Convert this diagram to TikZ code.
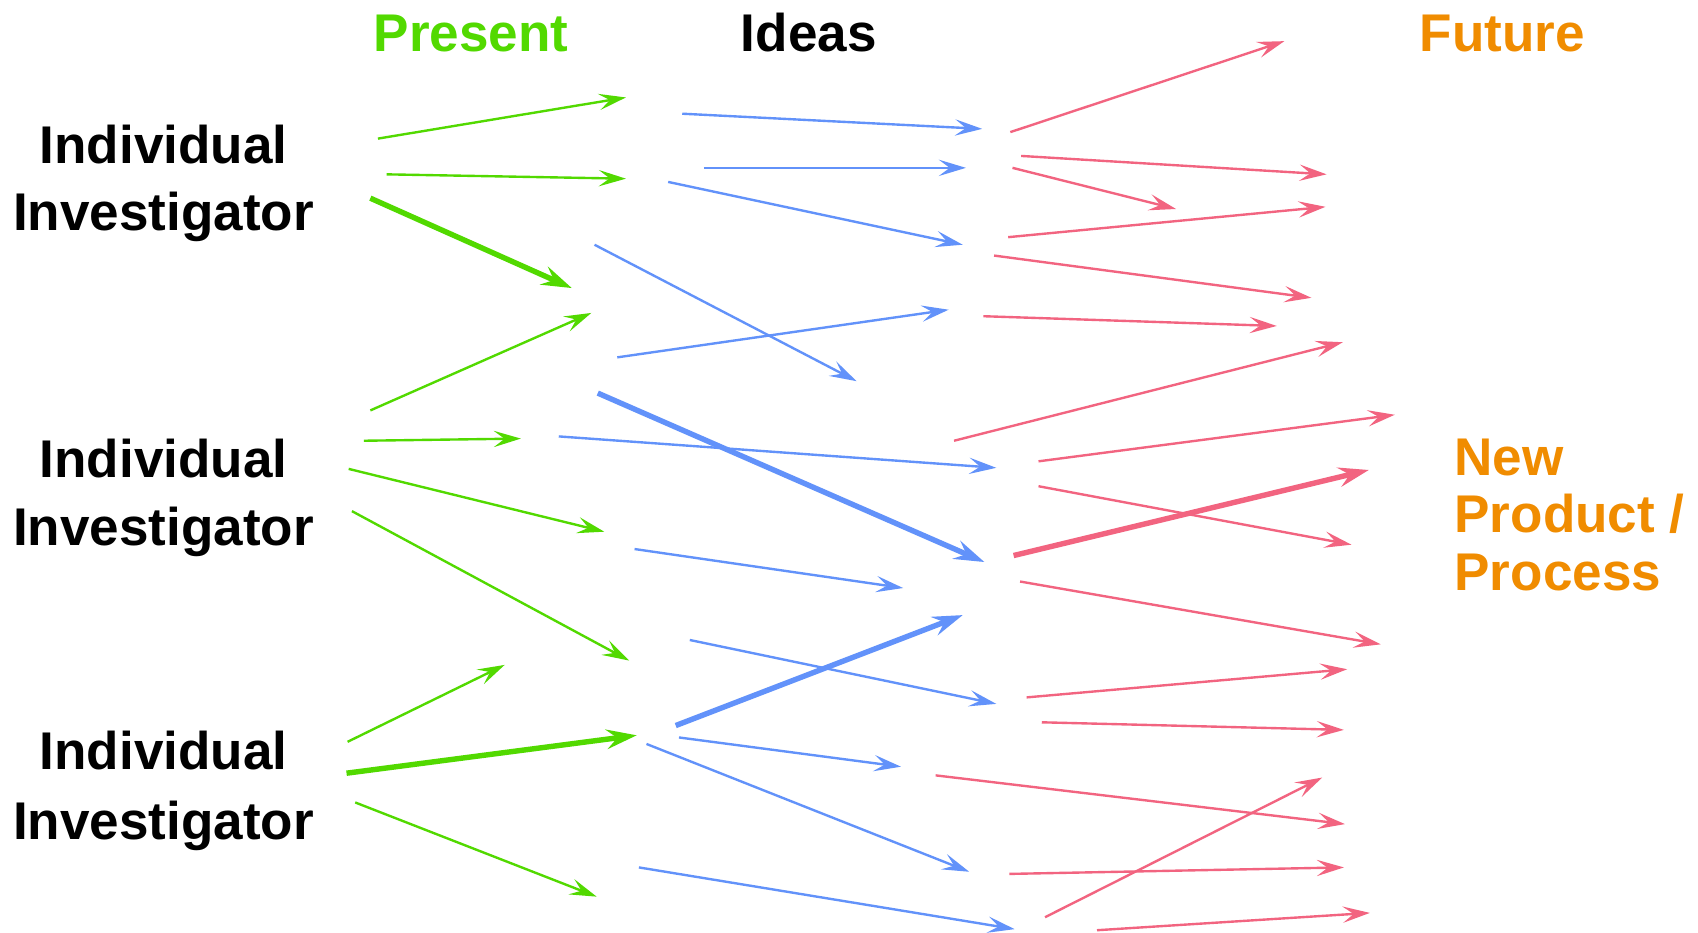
\documentclass[tikz,border=0pt]{standalone}
\usepackage{fontspec}
\setmainfont{Liberation Sans}
\usetikzlibrary{arrows.meta}
\definecolor{cgreen}{RGB}{82,217,0}
\definecolor{cblue}{RGB}{98,146,250}
\definecolor{cpink}{RGB}{242,100,128}
\definecolor{corange}{RGB}{240,140,0}
\begin{document}
\begin{tikzpicture}[x=1pt,y=-1pt,
  lbl/.style={inner sep=0pt, font=\fontsize{49}{58}\selectfont\bfseries},
  arrthin/.style={line width=2.2pt, -{Stealth[length=25pt,width=15pt,inset=10pt]}},
  arrthick/.style={line width=5pt, -{Stealth[length=28pt,width=18pt,inset=10pt]}},
]
\fill[white] (0,0) rectangle (1568,861);
\useasboundingbox (0,0) rectangle (1568,861);

% titles
\node[lbl, text=cgreen, anchor=base west] (present) at (345,48) {Present};
\node[lbl, text=black, anchor=base west] (ideas) at (684,48) {Ideas};
\node[lbl, text=corange, anchor=base west] (future) at (1311,48) {Future};

% investigators
\node[lbl, anchor=base] (ind1a) at (151,151) {Individual};
\node[lbl, anchor=base] (ind1b) at (151,213) {Investigator};
\node[lbl, anchor=base] (ind2a) at (151,441) {Individual};
\node[lbl, anchor=base] (ind2b) at (151,504) {Investigator};
\node[lbl, anchor=base] (ind3a) at (151,711) {Individual};
\node[lbl, anchor=base] (ind3b) at (151,775) {Investigator};

% new product
\node[lbl, text=corange, anchor=base west] (np1) at (1343,439) {New};
\node[lbl, text=corange, anchor=base west] (np2) at (1343,492) {Product /};
\node[lbl, text=corange, anchor=base west] (np3) at (1343,545) {Process};

% green arrows
\foreach \n/\ax/\ay/\bx/\by/\w in {
  1/349/128/578/90/arrthin,
  2/357/161/578/165/arrthin,
  3/342/183/528/266/arrthick,
  4/342/379/546/289/arrthin,
  5/336/407/481/405/arrthin,
  6/322/433/558/491/arrthin,
  7/325/472/581/610/arrthin,
  8/321/685/466/614/arrthin,
  9/320/714/588/679/arrthick,
  10/328/741/551/828/arrthin}{
  \coordinate (g\n s) at (\ax,\ay);
  \coordinate (g\n e) at (\bx,\by);
  \draw[\w, cgreen] (g\n s) -- (g\n e);
}

% blue arrows
\foreach \n/\ax/\ay/\bx/\by/\w in {
  1/630/105/907/119/arrthin,
  2/650/155/892/155/arrthin,
  3/617/168/889/226/arrthin,
  4/549/226/791/352/arrthin,
  5/570/330/876/286/arrthin,
  6/552/363/909/519/arrthick,
  7/516/403/920/432/arrthin,
  8/586/507/834/543/arrthin,
  9/637/591/920/650/arrthin,
  10/624/670/889/568/arrthick,
  11/627/681/832/708/arrthin,
  12/597/687/895/805/arrthin,
  13/590/801/937/858/arrthin}{
  \coordinate (b\n s) at (\ax,\ay);
  \coordinate (b\n e) at (\bx,\by);
  \draw[\w, cblue] (b\n s) -- (b\n e);
}

% pink arrows
\foreach \n/\ax/\ay/\bx/\by/\w in {
  1/933/122/1186/38/arrthin,
  2/943/144/1225/161/arrthin,
  3/935/155/1086/193/arrthin,
  4/931/219/1224/191/arrthin,
  5/918/236/1211/275/arrthin,
  6/908/292/1179/301/arrthin,
  7/881/407/1240/316/arrthin,
  8/959/426/1288/383/arrthin,
  9/959/449/1248/503/arrthin,
  10/936/513/1264/434/arrthick,
  11/942/537/1275/595/arrthin,
  12/948/644/1244/618/arrthin,
  13/962/667/1241/674/arrthin,
  14/864/716/1242/761/arrthin,
  15/932/807/1241/801/arrthin,
  16/965/847/1221/718/arrthin,
  17/1013/859/1265/843/arrthin}{
  \coordinate (p\n s) at (\ax,\ay);
  \coordinate (p\n e) at (\bx,\by);
  \draw[\w, cpink] (p\n s) -- (p\n e);
}
\end{tikzpicture}
\end{document}
